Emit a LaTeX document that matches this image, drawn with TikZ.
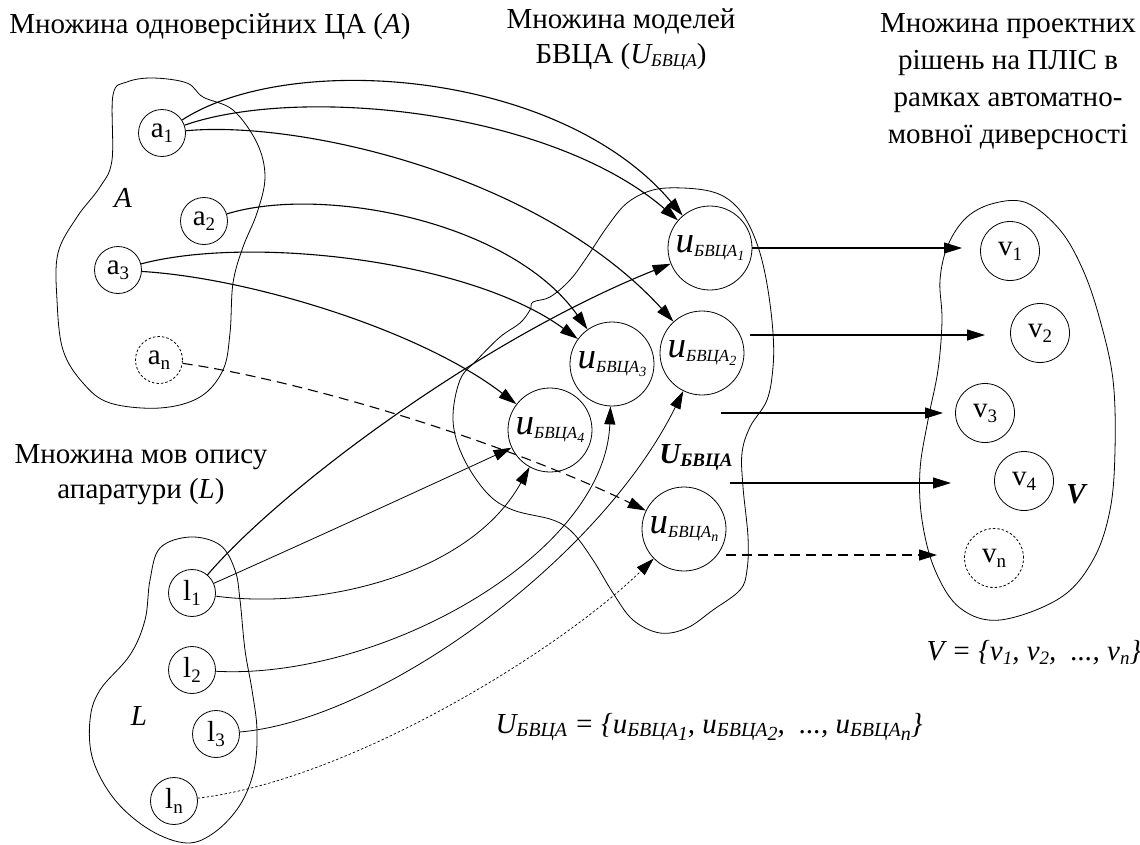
\documentclass[tikz,border=0pt]{standalone}
\usepackage{fontspec}
\setmainfont{Liberation Serif}
\usetikzlibrary{arrows.meta}
\newcommand\fsz[1]{\fontsize{#1}{#1}\selectfont}
\newcommand\ulab[1]{\textit{\fsz{37}u\fsz{17}\raisebox{-4pt}{БВЦА\raisebox{-4pt}{\fsz{14}#1}}}}
\newcommand\sbl[2]{#1\raisebox{-5pt}{\fsz{19}#2}}
\newcommand\Ubv[1]{\textit{U\raisebox{-3pt}{\fsz{#1}БВЦА}}}
\begin{document}
\begin{tikzpicture}[x=1pt,y=-1pt,
  el/.style={circle,draw,line width=0.8pt,minimum size=47pt,inner sep=0pt,font=\fsz{29}},
  eld/.style={el,dash pattern=on 2.5pt off 2pt},
  uel/.style={circle,draw,line width=0.8pt,minimum size=84pt,inner sep=0pt},
  vel/.style={circle,draw,line width=0.8pt,minimum size=59pt,inner sep=0pt,font=\fsz{29}},
  veld/.style={vel,dash pattern=on 2.5pt off 2pt},
  blob/.style={draw,line width=0.8pt},
  con/.style={line width=1.1pt,-{Triangle[length=18pt,width=11pt]}},
  cond/.style={con,dash pattern=on 10pt off 6pt},
  cont/.style={line width=0.7pt,dash pattern=on 2.5pt off 2pt,-{Triangle[length=18pt,width=11pt]}},
  ttl/.style={font=\fsz{29},align=center,anchor=base},
  lbl/.style={font=\fsz{29}\itshape,anchor=base}]
\useasboundingbox (0,0) rectangle (1140,844);

% blobs
\draw[blob] plot[smooth cycle,tension=0.6] coordinates {(153,78) (187,83) (203,97) (233,110) (257,143) (265,177) (257,213) (243,247) (233,283) (230,333) (223,370) (200,397) (160,408) (110,403) (83,383) (63,350) (57,300) (58,253) (77,217) (100,187) (112,160) (113,95) (127,82)};
\draw[blob] plot[smooth cycle,tension=0.6] coordinates {(190,537) (220,545) (235,570) (240,600) (245,650) (252,690) (257,730) (254,770) (240,805) (215,832) (187,843) (150,830) (115,800) (93,760) (90,720) (100,690) (130,655) (145,620) (150,580) (160,548)};
\draw[blob] plot[smooth cycle,tension=0.6] coordinates {(683,188) (713,192) (733,203) (748,223) (760,253) (768,290) (773,333) (773,367) (767,400) (750,427) (742,453) (743,487) (748,537) (747,570) (740,590) (713,610) (687,628) (660,633) (633,620) (613,593) (593,560) (573,533) (553,520) (513,510) (487,493) (463,457) (453,420) (460,380) (477,360) (500,337) (520,323) (530,310) (533,302) (550,297) (570,280) (587,257) (607,227) (627,203) (653,190)};
\draw[blob] plot[smooth cycle,tension=0.6] coordinates {(1027,203) (1060,230) (1083,270) (1100,320) (1113,380) (1115,450) (1110,510) (1093,560) (1060,598) (1000,620) (960,608) (935,570) (922,520) (920,470) (928,420) (938,370) (942,320) (940,280) (948,245) (967,217) (995,203)};

% titles (base anchor = baseline of last line)
\node[ttl] (t1) at (210,33) {Множина одноверсійних ЦА (\textit{A})};
\node[ttl,font=\fontsize{29}{35}\selectfont] (t2) at (621,63) {Множина моделей\\БВЦА (\Ubv{18})};
\node[ttl,font=\fontsize{29}{37}\selectfont] (t3) at (1008,143) {Множина проектних\\рішень на ПЛІС в\\рамках автоматно-\\мовної диверсності};
\node[ttl,font=\fontsize{29}{35}\selectfont] (t4) at (141,498) {Множина мов опису\\апаратури (\textit{L})};

% set labels
\node[lbl] (lA) at (123,207) {A};
\node[lbl] (lL) at (139,725) {L};
\node[lbl,font=\fsz{29}\bfseries\itshape] (lU) at (696,463) {\Ubv{19}};
\node[lbl,font=\fsz{29}\bfseries\itshape] (lV) at (1076,503) {V};
\node[lbl,anchor=base west] (eqV) at (923,660) {V = \{v\raisebox{-4pt}{\fsz{19}1}, v\raisebox{-4pt}{\fsz{19}2}, \ ..., v\raisebox{-4pt}{\fsz{19}n}\}};
\node[lbl,anchor=base west] (eqU) at (492,733) {\Ubv{20} = \{u\raisebox{-3pt}{\fsz{20}БВЦА\raisebox{-4pt}{1}}, u\raisebox{-3pt}{\fsz{20}БВЦА\raisebox{-4pt}{2}}, \ ..., u\raisebox{-3pt}{\fsz{20}БВЦА\raisebox{-4pt}{n}}\}};

% A elements
\node[el] (a1) at (162,133) {\sbl{a}{1}};
\node[el] (a2) at (204,221) {\sbl{a}{2}};
\node[el] (a3) at (118,270) {\sbl{a}{3}};
\node[eld] (an) at (159,360) {\sbl{a}{n}};
% L elements
\node[el] (l1) at (192,593) {\sbl{l}{1}};
\node[el] (l2) at (192,670) {\sbl{l}{2}};
\node[el] (l3) at (216,734) {\sbl{l}{3}};
\node[el] (ln) at (174,801) {\sbl{l}{n}};
% U elements
\node[uel] (u1) at (710,248) {\ulab{1}};
\node[uel] (u2) at (702,353) {\ulab{2}};
\node[uel] (u3) at (612,364) {\ulab{3}};
\node[uel] (u4) at (550,430) {\ulab{4}};
\node[uel] (un) at (684,529) {\ulab{n}};
% V elements
\node[vel] (v1) at (1010,251) {\sbl{v}{1}};
\node[vel] (v2) at (1040,333) {\sbl{v}{2}};
\node[vel] (v3) at (985,413) {\sbl{v}{3}};
\node[vel] (v4) at (1024,481) {\sbl{v}{4}};
\node[veld] (vn) at (994,558) {\sbl{v}{n}};

% A -> U
\draw[con] (a1) .. controls (290,50) and (560,70) .. (u1);
\draw[con] (a1) .. controls (300,85) and (550,110) .. (u1);
\draw[con] (a1) .. controls (300,120) and (540,175) .. (u2);
\draw[con] (a2) .. controls (320,185) and (510,220) .. (u3);
\draw[con] (a3) .. controls (250,235) and (470,260) .. (u3);
\draw[con] (a3) .. controls (250,278) and (420,330) .. (u4);
\draw[cond] (an) .. controls (300,380) and (500,440) .. (un);
% L -> U
\draw[con] (l1) .. controls (280,490) and (480,340) .. (u1);
\draw[con,line width=0.8pt] (l1) .. controls (300,545) and (420,490) .. (u4);
\draw[con,line width=0.8pt] (l1) .. controls (320,610) and (470,575) .. (u4);
\draw[con,line width=0.8pt] (l2) .. controls (380,680) and (605,555) .. (u3);
\draw[con,line width=0.8pt] (l3) .. controls (380,720) and (600,560) .. (u2);
\draw[cont] (ln) .. controls (350,780) and (560,650) .. (un);

% U -> V
\coordinate (h1e) at (962,248);
\coordinate (h2s) at (750,335);
\coordinate (h2e) at (985,335);
\coordinate (h3s) at (721,413);
\coordinate (h3e) at (943,413);
\coordinate (h4s) at (730,483);
\coordinate (h4e) at (951,483);
\coordinate (h5s) at (726,555);
\coordinate (h5e) at (937,555);
\draw[con] (u1.east) -- (h1e);
\draw[con] (h2s) -- (h2e);
\draw[con] (h3s) -- (h3e);
\draw[con] (h4s) -- (h4e);
\draw[cond] (h5s) -- (h5e);
\end{tikzpicture}
\end{document}
